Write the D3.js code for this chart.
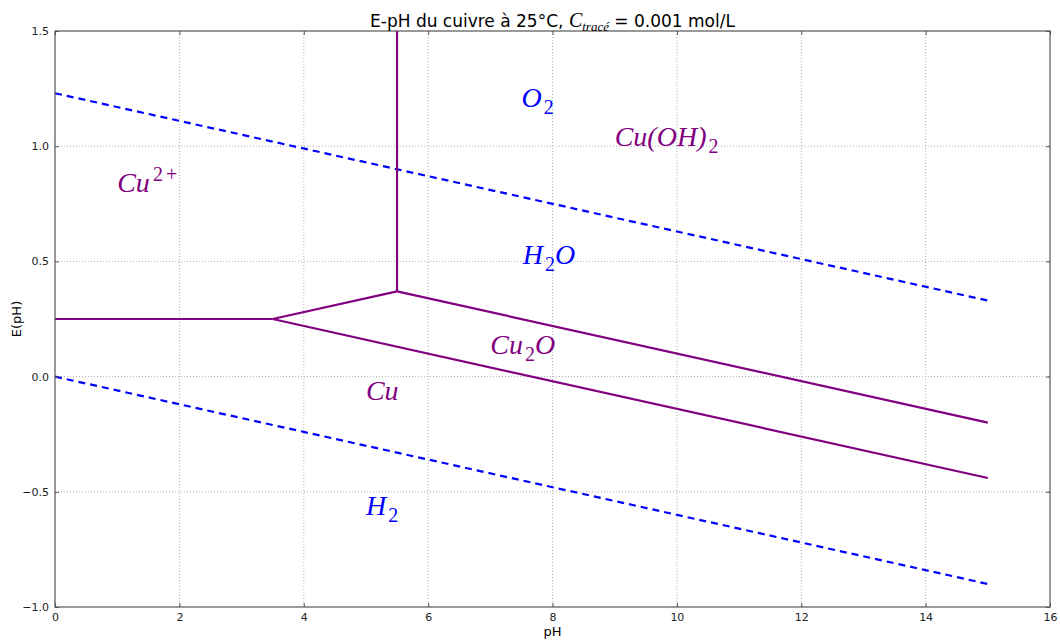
<!DOCTYPE html>
<html>
<head>
<meta charset="utf-8">
<script src="https://cdn.jsdelivr.net/npm/d3@7"></script>
<style>
  body { margin: 0; background: #fff; }
  .tick text { font-family: "DejaVu Sans", sans-serif; font-size: 11px; fill: #222; }
  .lbl { font-family: "Liberation Serif", serif; font-style: italic; font-size: 28px; }
</style>
</head>
<body>
<svg id="canvas" width="1060" height="644"></svg>
<script>
// frontières du diagramme (pH, E)
var waterO2 = [[0, 1.23], [15, 0.33]];
var waterH2 = [[0, 0.0], [15, -0.9]];
var cuLines = [
    [[0, 0.25], [3.5, 0.25]],          // Cu2+/Cu
    [[3.5, 0.25], [5.5, 0.37]],        // Cu2+/Cu2O
    [[3.5, 0.25], [15, -0.44]],        // Cu2O/Cu
    [[5.5, 0.37], [15, -0.2]],         // Cu(OH)2/Cu2O
    [[5.5, 0.37], [5.5, 1.5]]          // Cu2+/Cu(OH)2
];
var xTicks = [0, 2, 4, 6, 8, 10, 12, 14, 16];
var yTicks = [-1.0, -0.5, 0.0, 0.5, 1.0, 1.5];
// étiquettes des domaines
var labels = [
    {main: "Cu", sup: "2+", x: 1.0, y: 0.8, color: "purple"},
    {main: "O", sub: "2", x: 7.5, y: 1.17, color: "blue"},
    {main: "Cu(OH)", sub: "2", x: 9.0, y: 1.0, color: "purple"},
    {main: "H", sub: "2", after: "O", x: 7.52, y: 0.49, color: "blue"},
    {main: "Cu", sub: "2", after: "O", x: 7.0, y: 0.1, color: "purple"},
    {main: "Cu", x: 5.0, y: -0.1, color: "purple"},
    {main: "H", sub: "2", x: 5.0, y: -0.6, color: "blue"}
];

var margin = {left: 55, top: 31, right: 10, bottom: 37};
var width = 1060 - margin.left - margin.right,
    height = 644 - margin.top - margin.bottom;

var svg = d3.select("#canvas");
var g = svg.append("g").attr("transform", "translate(" + margin.left + "," + margin.top + ")");

var x = d3.scaleLinear().domain([0, 16]).range([0, width]);
var y = d3.scaleLinear().domain([-1.0, 1.5]).range([height, 0]);

// grille
g.append("g").selectAll("line").data(xTicks.slice(1, -1)).enter().append("line")
    .attr("x1", function (d) { return x(d); }).attr("x2", function (d) { return x(d); })
    .attr("y1", 0).attr("y2", height)
    .attr("stroke", "#b0b0b0").attr("stroke-dasharray", "1,2");
g.append("g").selectAll("line").data(yTicks.slice(1, -1)).enter().append("line")
    .attr("y1", function (d) { return y(d); }).attr("y2", function (d) { return y(d); })
    .attr("x1", 0).attr("x2", width)
    .attr("stroke", "#b0b0b0").attr("stroke-dasharray", "1,2");

var line = d3.line().x(function (d) { return x(d[0]); }).y(function (d) { return y(d[1]); });

[waterO2, waterH2].forEach(function (seg) {
    g.append("path").attr("d", line(seg)).attr("fill", "none")
        .attr("stroke", "blue").attr("stroke-width", 2.2).attr("stroke-dasharray", "7,5");
});
cuLines.forEach(function (seg) {
    g.append("path").attr("d", line(seg)).attr("fill", "none")
        .attr("stroke", "purple").attr("stroke-width", 2.2);
});

// cadre
g.append("rect").attr("width", width).attr("height", height)
    .attr("fill", "none").attr("stroke", "#555").attr("stroke-width", 1.2);

// axes
var fmt = function (d) { return d3.format(".1f")(d).replace("-", "\u2212"); };
var styleAxis = function (s) { s.select(".domain").remove(); s.selectAll(".tick line").attr("stroke", "#555"); };
g.append("g").attr("transform", "translate(0," + height + ")")
    .call(d3.axisBottom(x).tickValues(xTicks).tickSize(-4).tickPadding(6)).call(styleAxis);
g.append("g")
    .call(d3.axisLeft(y).tickValues(yTicks).tickFormat(fmt).tickSize(-4).tickPadding(6)).call(styleAxis);
g.append("g").attr("transform", "translate(" + width + ",0)")
    .call(d3.axisRight(y).tickValues(yTicks).tickFormat("").tickSize(-4)).call(styleAxis);
g.append("g")
    .call(d3.axisTop(x).tickValues(xTicks).tickFormat("").tickSize(-4)).call(styleAxis);

// titres d'axes
svg.append("text").attr("x", margin.left + width / 2).attr("y", 636)
    .attr("text-anchor", "middle").attr("font-family", "DejaVu Sans").attr("font-size", 13)
    .text("pH");
svg.append("text").attr("transform", "translate(21," + (margin.top + height / 2) + ") rotate(-90)")
    .attr("text-anchor", "middle").attr("font-family", "DejaVu Sans").attr("font-size", 13)
    .text("E(pH)");

// titre
var title = svg.append("text").attr("x", margin.left + width / 2).attr("y", 27)
    .attr("text-anchor", "middle").attr("font-family", "DejaVu Sans").attr("font-size", 17);
title.append("tspan").text("E-pH du cuivre à 25°C, ");
title.append("tspan").attr("font-family", "Liberation Serif").attr("font-style", "italic").attr("font-size", 20).text("C");
title.append("tspan").attr("font-family", "Liberation Serif").attr("font-style", "italic").attr("font-size", 13)
    .attr("dy", 4).text("tracé");
title.append("tspan").attr("dy", -4).text(" = 0.001 mol/L");

// étiquettes des domaines
labels.forEach(function (l) {
    var t = g.append("text").attr("class", "lbl")
        .attr("x", x(l.x)).attr("y", y(l.y)).attr("fill", l.color);
    t.append("tspan").text(l.main);
    if (l.sub) t.append("tspan").attr("dx", 2).attr("dy", 7).attr("font-size", 20).attr("font-style", "normal").text(l.sub);
    if (l.sup) t.append("tspan").attr("dx", 3).attr("dy", -11).attr("font-size", 20).attr("font-style", "normal")
        .attr("letter-spacing", 3).text(l.sup);
    if (l.after) t.append("tspan").attr("dy", l.sub ? -7 : 11).text(l.after);
});
</script>
</body>
</html>
